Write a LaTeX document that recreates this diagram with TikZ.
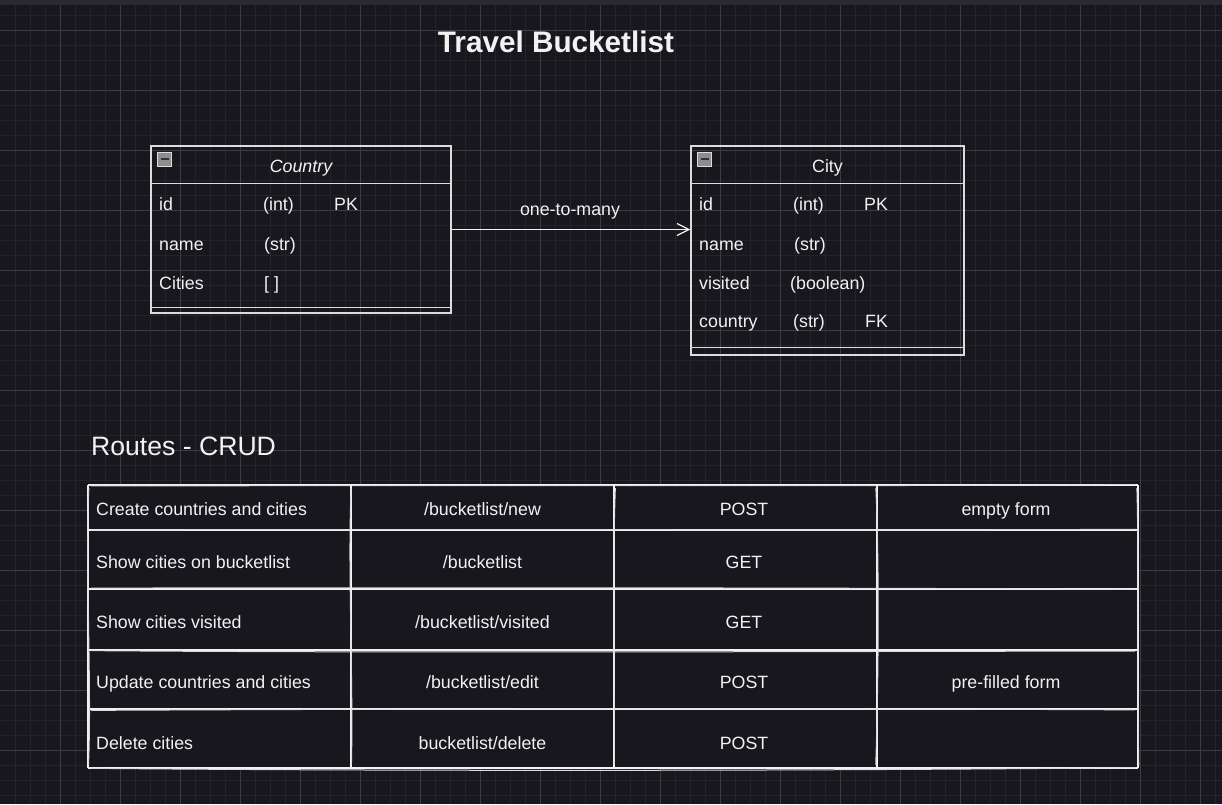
\documentclass[tikz,border=0pt]{standalone}
\usepackage{fontspec}
\setmainfont{Liberation Sans}
\usetikzlibrary{arrows.meta}
\definecolor{bgc}{HTML}{19171E}
\definecolor{gmin}{HTML}{25232A}
\definecolor{gmaj}{HTML}{3C3B41}
\definecolor{topc}{HTML}{2B2833}
\definecolor{fg}{HTML}{F2F2F2}
\definecolor{boxc}{HTML}{DCDCDC}
\definecolor{iconc}{HTML}{8E8E8E}
\pgfmathsetseed{11}
\newcommand\skh[3]{%
  \pgfmathsetmacro\ra{rand*1.5}\pgfmathsetmacro\rb{rand*4}%
  \pgfmathsetmacro\rc{rand*4}\pgfmathsetmacro\rd{rand*1.5}%
  \draw[sk] (#1,#3) -- (#2,#3);
  \draw[skb] ({#1+3},{#3+\ra}) .. controls ({#1+0.3*(#2-#1)},{#3+\rb}) and ({#1+0.7*(#2-#1)},{#3+\rc}) .. ({#2-3},{#3+\rd});
}
\newcommand\skv[3]{%
  \pgfmathsetmacro\ra{rand*1.5}\pgfmathsetmacro\rb{rand*4}%
  \pgfmathsetmacro\rc{rand*4}\pgfmathsetmacro\rd{rand*1.5}%
  \draw[sk] (#1,#2) -- (#1,#3);
  \draw[skb] ({#1+\ra},{#2+3}) .. controls ({#1+\rb},{#2+0.3*(#3-#2)}) and ({#1+\rc},{#2+0.7*(#3-#2)}) .. ({#1+\rd},{#3-3});
}
\begin{document}
\begin{tikzpicture}[x=1pt,y=-1pt,
  minor/.style={gmin,line width=1pt},
  major/.style={gmaj,line width=1pt},
  sk/.style={fg,line width=1.2pt},
  skb/.style={fg!90!black,line width=1pt},
  txt/.style={text=fg,inner sep=0pt,font=\fontsize{17.8}{20}\selectfont},
  cell/.style={txt,anchor=base west},
  ccell/.style={txt,anchor=base},
  erbox/.style={draw=boxc,line width=1.4pt,rectangle,inner sep=0pt},
  erline/.style={boxc,line width=1.4pt},
  minusbox/.style={fill=iconc,draw=boxc,line width=0.8pt,minimum size=14pt,inner sep=0pt},
  conn/.style={fg,line width=1.2pt,-{Straight Barb[length=12pt,width=12pt]}}
]
\useasboundingbox (0,0) rectangle (1222,804);
\fill[bgc] (0,0) rectangle (1222,804);
\foreach \x in {15,30,...,1215} \draw[minor] (\x,0) -- (\x,804);
\foreach \y in {15,30,...,795} \draw[minor] (0,\y) -- (1222,\y);
\foreach \x in {60,120,...,1200} \draw[major] (\x,0) -- (\x,804);
\foreach \y in {30,90,...,780} \draw[major] (0,\y) -- (1222,\y);
\fill[topc] (0,0) rectangle (1222,5);

% title
\node[txt,anchor=base,font=\fontsize{29.7}{32}\selectfont\bfseries] (title) at (556,52) {Travel Bucketlist};

% Country entity
\node[erbox,minimum width=300pt,minimum height=167pt] (country) at (301,229.5) {};
\draw[erline] ([yshift=-38pt]country.north west) -- ([yshift=-38pt]country.north east);
\draw[erline] ([yshift=6pt]country.south west) -- ([yshift=6pt]country.south east);
\node[minusbox] (cmin) at (164.5,159) {};
\draw[black!80,line width=1.8pt] ([xshift=-4pt]cmin.center) -- ([xshift=4pt]cmin.center);
\node[ccell,font=\fontsize{17.8}{20}\selectfont\itshape] (ctitle) at (301,172) {Country};
\node[cell] (c1a) at (159,210.5) {id};
\node[cell] (c1b) at (263,210.5) {(int)};
\node[cell] (c1c) at (334,210.5) {PK};
\node[cell] (c2a) at (159,250) {name};
\node[cell] (c2b) at (264,250) {(str)};
\node[cell] (c3a) at (159,289) {Cities};
\node[cell] (c3b) at (264,289) {[ ]};

% City entity
\node[erbox,minimum width=273pt,minimum height=209pt] (city) at (827.5,250.5) {};
\draw[erline] ([yshift=-38pt]city.north west) -- ([yshift=-38pt]city.north east);
\draw[erline] ([yshift=8pt]city.south west) -- ([yshift=8pt]city.south east);
\node[minusbox] (tmin) at (704.5,159) {};
\draw[black!80,line width=1.8pt] ([xshift=-4pt]tmin.center) -- ([xshift=4pt]tmin.center);
\node[ccell] (ttitle) at (827.5,172) {City};
\node[cell] (t1a) at (699,210.5) {id};
\node[cell] (t1b) at (793,210.5) {(int)};
\node[cell] (t1c) at (864,210.5) {PK};
\node[cell] (t2a) at (699,250) {name};
\node[cell] (t2b) at (794,250) {(str)};
\node[cell] (t3a) at (699,289) {visited};
\node[cell] (t3b) at (790,289) {(boolean)};
\node[cell] (t4a) at (699,327.7) {country};
\node[cell] (t4b) at (793,327.7) {(str)};
\node[cell] (t4c) at (865,327.7) {FK};

% relation
\draw[conn] (country.east) -- (country.east -| city.west);
\node[ccell] (rel) at (570,215.7) {one-to-many};

% routes
\node[txt,anchor=base west,font=\fontsize{26.6}{30}\selectfont] (routes) at (91,455) {Routes - CRUD};

\fill[bgc] (88,485) rectangle (1138,768);
\foreach \y in {485,530,589,650,709,768} {\skh{88}{1138}{\y}}
\foreach \x in {88,351,614,877,1138} {\skv{\x}{485}{768}}

\node[cell] (r1a) at (96,515.7) {Create countries and cities};
\node[ccell] (r1b) at (482.5,515.7) {/bucketlist/new};
\node[ccell] (r1c) at (744,515.7) {POST};
\node[ccell] (r1d) at (1006,515.7) {empty form};
\node[cell] (r2a) at (96,568.7) {Show cities on bucketlist};
\node[ccell] (r2b) at (482.5,568.7) {/bucketlist};
\node[ccell] (r2c) at (744,568.7) {GET};
\node[cell] (r3a) at (96,628.5) {Show cities visited};
\node[ccell] (r3b) at (482.5,628.5) {/bucketlist/visited};
\node[ccell] (r3c) at (744,628.5) {GET};
\node[cell] (r4a) at (96,688.5) {Update countries and cities};
\node[ccell] (r4b) at (482.5,688.5) {/bucketlist/edit};
\node[ccell] (r4c) at (744,688.5) {POST};
\node[ccell] (r4d) at (1006,688.5) {pre-filled form};
\node[cell] (r5a) at (96,749) {Delete cities};
\node[ccell] (r5b) at (482.5,749) {bucketlist/delete};
\node[ccell] (r5c) at (744,749) {POST};
\end{tikzpicture}
\end{document}
